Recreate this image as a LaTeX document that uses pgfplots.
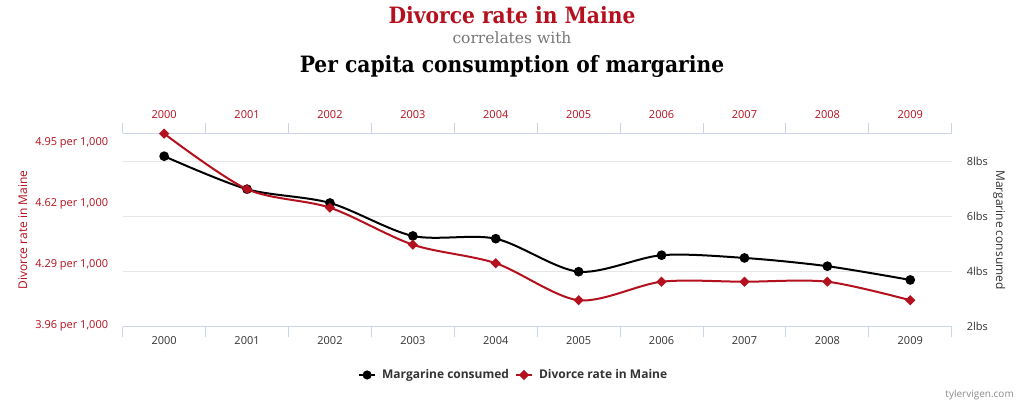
\documentclass[border=0pt]{standalone}
\usepackage{fontspec}
\setmainfont{Open Sans}
\newfontfamily\titlefont{DejaVu Serif}[FakeStretch=0.9]
\newfontfamily\subfont{DejaVu Serif}
\usepackage{pgfplots}
\pgfplotsset{compat=1.18}
\definecolor{vred}{HTML}{B4101E}
\definecolor{axisblue}{HTML}{CCD6EB}
\definecolor{gridgray}{HTML}{E6E6E6}
\definecolor{txt}{HTML}{333333}
\definecolor{subgray}{HTML}{777777}

\begin{document}
\begin{tikzpicture}[x=1pt,y=1pt]
\fill[white] (0,0) rectangle (1024,403);
\path[use as bounding box] (0,0) rectangle (1024,403);

\node[anchor=base, font=\titlefont\bfseries\fontsize{22.5}{26}\selectfont, text=vred, inner sep=0pt] at (512,379.7) {Divorce rate in Maine};
\node[anchor=base, font=\subfont\fontsize{15.5}{18}\selectfont, text=subgray, inner sep=0pt] at (512,359.7) {correlates with};
\node[anchor=base, font=\titlefont\bfseries\fontsize{22.5}{26}\selectfont, text=black, inner sep=0pt] at (512,330) {Per capita consumption of margarine};

\node[rotate=90, font=\fontsize{12}{14}\selectfont, text=vred, inner sep=0pt] at (22.7,173) {Divorce rate in Maine};
\node[rotate=-90, font=\fontsize{12}{14}\selectfont, text=txt, inner sep=0pt] at (999.3,173) {Margarine consumed};
\node[anchor=base east, font=\fontsize{10}{12}\selectfont, text=black!45, inner sep=0pt] at (1014,5.3) {tylervigen.com};

% Margarine (right axis)
\begin{axis}[
  at={(122.7pt,76.3pt)}, anchor=south west,
  scale only axis, width=829pt, height=193.4pt,
  xmin=-0.5, xmax=9.5, ymin=2, ymax=9.033,
  axis x line*=bottom, axis y line*=right,
  x axis line style={draw=axisblue, line width=1pt, -},
  y axis line style={draw=none, -},
  xtick={0,1,2,3,4,5,6,7,8,9},
  xticklabels={2000,2001,2002,2003,2004,2005,2006,2007,2008,2009},
  minor xtick={-0.5,0.5,1.5,2.5,3.5,4.5,5.5,6.5,7.5,8.5,9.5},
  major tick length=0pt, minor tick length=10pt, tick align=outside,
  major tick style={draw=none},
  minor tick style={draw=axisblue, line width=1pt},
  xticklabel style={font=\fontsize{11}{13}\selectfont, text=txt, inner sep=0pt, anchor=north},
  xticklabel shift=10pt,
  ytick={2,4,6,8}, yticklabels={2lbs,4lbs,6lbs,8lbs},
  ymajorgrids, grid style={draw=gridgray, line width=1pt},
  yticklabel style={font=\fontsize{11}{13}\selectfont, text=txt, inner sep=0pt, anchor=west},
  yticklabel shift=15pt,
  clip=false,
]
\addplot[black, line width=2pt, smooth, tension=0.5, mark=*, mark size=3.8pt, mark options={solid}]
  coordinates {(0,8.2) (1,7.0) (2,6.5) (3,5.3) (4,5.2) (5,4.0) (6,4.6) (7,4.5) (8,4.2) (9,3.7)};
\end{axis}

% Divorce rate (left axis)
\begin{axis}[
  at={(122.7pt,76.3pt)}, anchor=south west,
  scale only axis, width=829pt, height=193.4pt,
  xmin=-0.5, xmax=9.5, ymin=3.957, ymax=5.002,
  axis x line*=top, axis y line*=left,
  x axis line style={draw=axisblue, line width=1pt, -},
  y axis line style={draw=none, -},
  xtick={0,1,2,3,4,5,6,7,8,9},
  xticklabels={2000,2001,2002,2003,2004,2005,2006,2007,2008,2009},
  minor xtick={-0.5,0.5,1.5,2.5,3.5,4.5,5.5,6.5,7.5,8.5,9.5},
  major tick length=0pt, minor tick length=10pt, tick align=outside,
  major tick style={draw=none},
  minor tick style={draw=axisblue, line width=1pt},
  xticklabel style={font=\fontsize{11}{13}\selectfont, text=vred, inner sep=0pt, anchor=south},
  xticklabel shift=14pt,
  ytick={3.96,4.29,4.62,4.95},
  yticklabels={{3.96 per 1,000},{4.29 per 1,000},{4.62 per 1,000},{4.95 per 1,000}},
  yticklabel style={font=\fontsize{11}{13}\selectfont, text=vred, inner sep=0pt, anchor=east},
  yticklabel shift=14.4pt,
  clip=false,
  legend style={at={(0.4704,-0.2497)}, anchor=center, draw=none, fill=none,
    legend columns=2, font=\bfseries\fontsize{12}{14}\selectfont, text=txt,
    column sep=6pt, nodes={inner sep=0pt}},
  legend image code/.code={\draw[mark repeat=2, mark phase=2] plot coordinates {(0pt,0pt) (8pt,0pt) (16pt,0pt)};},
]
\addlegendimage{black, line width=2pt, mark=*, mark size=3.5pt, mark options={solid}}
\addlegendentry{Margarine consumed\hspace{10pt}}
\addplot[vred, line width=2pt, smooth, tension=0.5, mark=square*, mark size=2.6pt, mark options={solid, rotate=45}]
  coordinates {(0,5.0) (1,4.7) (2,4.6) (3,4.4) (4,4.3) (5,4.1) (6,4.2) (7,4.2) (8,4.2) (9,4.1)};
\addlegendentry{Divorce rate in Maine}
\end{axis}
\end{tikzpicture}
\end{document}
